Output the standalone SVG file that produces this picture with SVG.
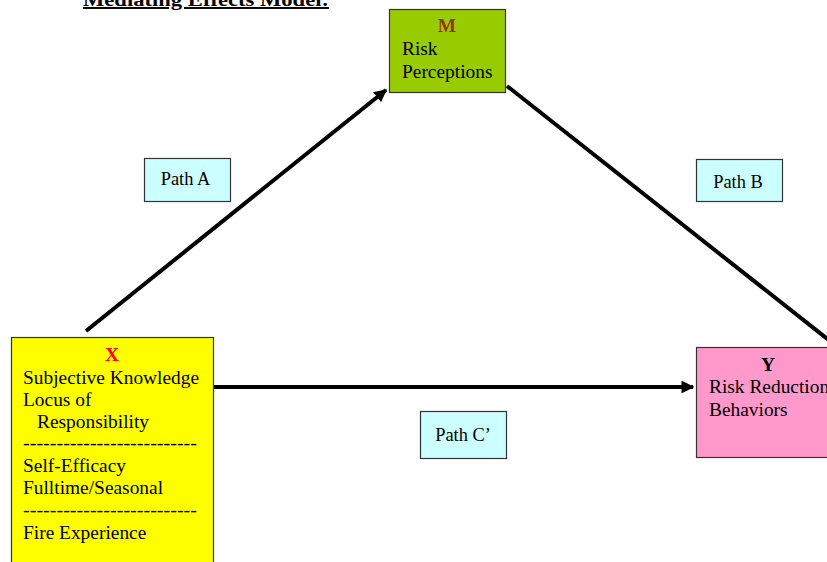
<svg xmlns="http://www.w3.org/2000/svg" width="827" height="562" viewBox="0 0 827 562">
<style>
text{font-family:"Liberation Serif","Times New Roman",serif;font-size:19.4px;fill:#000}
.box{stroke:#333;stroke-width:1.2}
.path{fill:#CCFFFF;stroke:#333;stroke-width:1.2}
.pl{font-size:18.4px}
.b{font-weight:bold}
.conn{stroke:#000;stroke-width:4;fill:none}
</style>
<defs>
<marker id="ah" viewBox="0 0 10 10" refX="9" refY="5" markerWidth="3.2" markerHeight="3.2" orient="auto" markerUnits="strokeWidth">
<path d="M0,0 L10,5 L0,10 z" fill="#000"/>
</marker>
</defs>
<rect width="827" height="562" fill="#fff"/>
<text x="83" y="6" class="b" font-size="21" text-decoration="underline" textLength="246" lengthAdjust="spacingAndGlyphs">Mediating Effects Model:</text>
<g id="connectors">
<line class="conn" x1="86" y1="331" x2="386" y2="90" marker-end="url(#ah)"/>
<line class="conn" x1="507" y1="86" x2="830" y2="341"/>
<line class="conn" x1="214" y1="387" x2="693" y2="387" marker-end="url(#ah)"/>
</g>
<g id="node-M">
<rect class="box" x="389.5" y="9.5" width="116" height="83" fill="#99CC00"/>
<text x="447" y="32" class="b" text-anchor="middle" style="fill:#993300">M</text>
<text x="402" y="55">Risk</text>
<text x="402" y="78">Perceptions</text>
</g>
<g id="node-X">
<rect class="box" x="11.5" y="337.5" width="202" height="230" fill="#FFFF00"/>
<text x="112" y="361" class="b" text-anchor="middle" style="fill:#FF0000">X</text>
<text x="23" y="384">Subjective Knowledge</text>
<text x="23" y="406">Locus of</text>
<text x="37" y="428">Responsibility</text>
<text x="23" y="449" textLength="174" lengthAdjust="spacingAndGlyphs">--------------------------</text>
<text x="23" y="472">Self-Efficacy</text>
<text x="23" y="494">Fulltime/Seasonal</text>
<text x="23" y="516" textLength="174" lengthAdjust="spacingAndGlyphs">--------------------------</text>
<text x="23" y="539">Fire Experience</text>
</g>
<g id="node-Y">
<rect class="box" x="696.5" y="347.5" width="140" height="110" fill="#FF99CC"/>
<text x="768" y="371" class="b" text-anchor="middle">Y</text>
<text x="709" y="393">Risk Reduction</text>
<text x="709" y="416">Behaviors</text>
</g>
<g id="path-A">
<rect class="path" x="144.5" y="158.5" width="86" height="43"/>
<text x="185.5" y="185" text-anchor="middle" class="pl">Path A</text>
</g>
<g id="path-B">
<rect class="path" x="696.5" y="159.5" width="86" height="42"/>
<text x="738" y="188" text-anchor="middle" class="pl">Path B</text>
</g>
<g id="path-C">
<rect class="path" x="420.5" y="411.5" width="86" height="47"/>
<text x="463" y="441" text-anchor="middle" class="pl">Path C’</text>
</g>
</svg>
